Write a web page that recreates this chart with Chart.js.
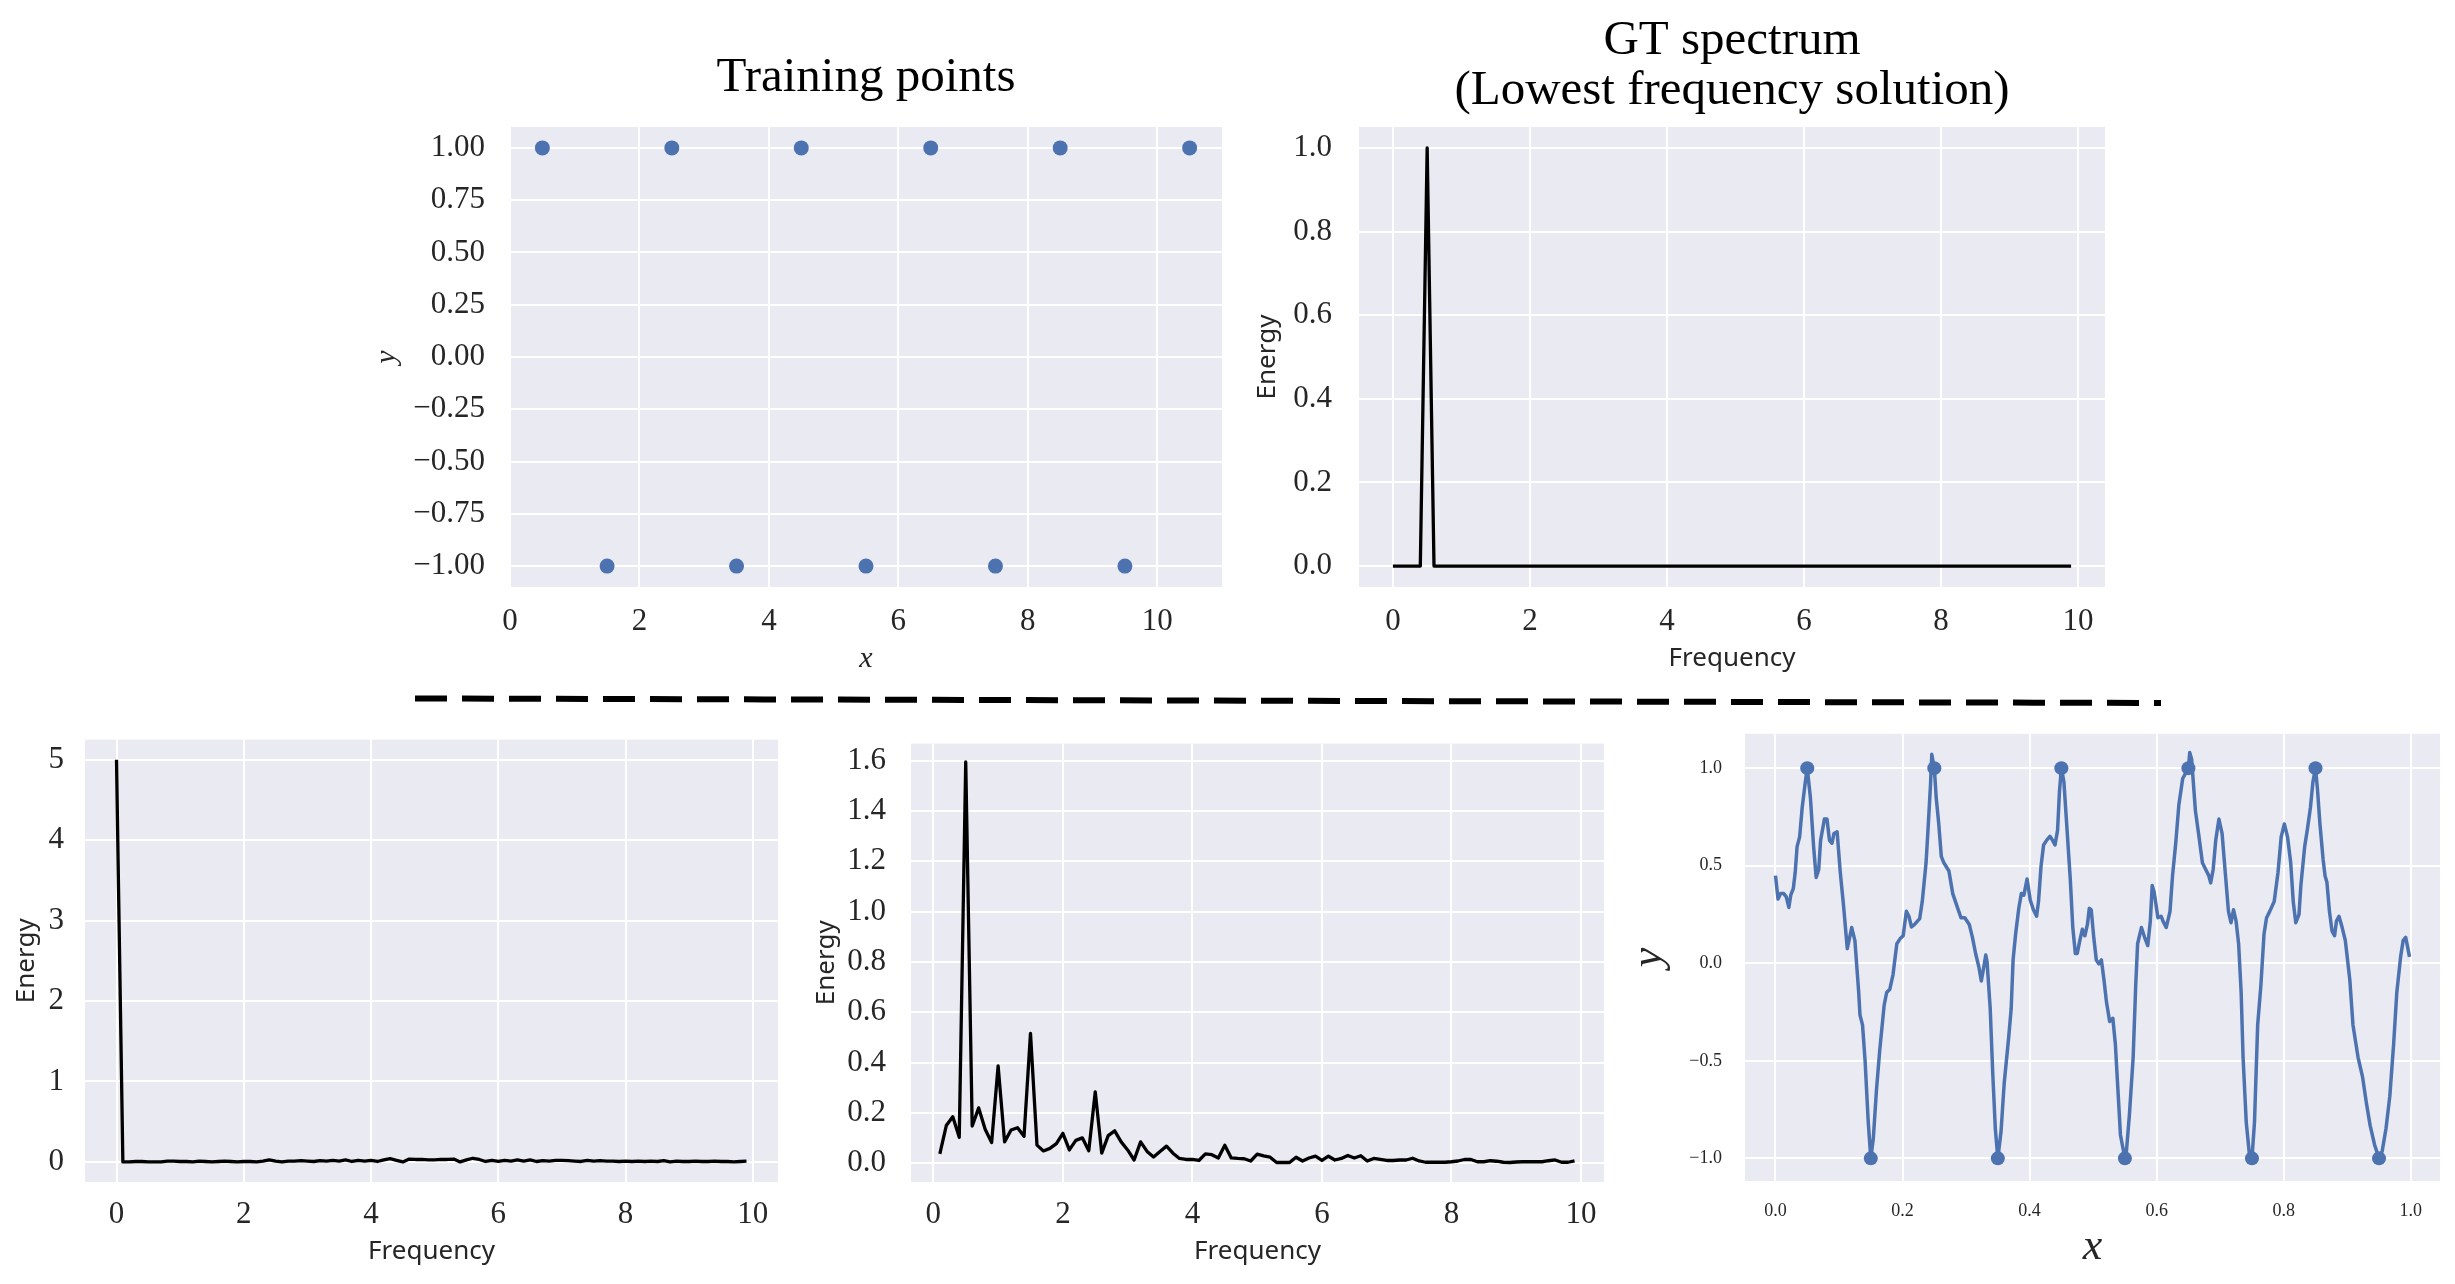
<!DOCTYPE html>
<html><head><meta charset="utf-8">
<script src="https://cdn.jsdelivr.net/npm/chart.js@4.4.1/dist/chart.umd.min.js"></script>
<style>
html,body{margin:0;padding:0;background:#fff;width:2455px;height:1284px;overflow:hidden;}
canvas{position:absolute;}
svg{position:absolute;left:0;top:0;pointer-events:none;}
</style></head><body>
<canvas id="cTL" width="912" height="700" style="left:330px;top:0px"></canvas>
<canvas id="cTR" width="895" height="700" style="left:1230px;top:0px"></canvas>
<canvas id="cBL" width="798" height="584" style="left:0px;top:700px"></canvas>
<canvas id="cBM" width="824" height="584" style="left:800px;top:700px"></canvas>
<canvas id="cBR" width="835" height="584" style="left:1620px;top:700px"></canvas>
<svg width="2455" height="1284"><line x1="415" y1="698.5" x2="2161" y2="703" stroke="#000" stroke-width="6" stroke-dasharray="32 15"/></svg>
<script>
// ---------- data ----------
const trainX = [0.5,1.5,2.5,3.5,4.5,5.5,6.5,7.5,8.5,9.5,10.5];
const trainY = [1,-1,1,-1,1,-1,1,-1,1,-1,1];

const freqs = [0,0.1,0.2,0.3,0.4,0.5,0.6,0.7,0.8,0.9,1,1.1,1.2,1.3,1.4,1.5,1.6,1.7,1.8,1.9,
  2,2.1,2.2,2.3,2.4,2.5,2.6,2.7,2.8,2.9,3,3.1,3.2,3.3,3.4,3.5,3.6,3.7,3.8,3.9,
  4,4.1,4.2,4.3,4.4,4.5,4.6,4.7,4.8,4.9,5,5.1,5.2,5.3,5.4,5.5,5.6,5.7,5.8,5.9,
  6,6.1,6.2,6.3,6.4,6.5,6.6,6.7,6.8,6.9,7,7.1,7.2,7.3,7.4,7.5,7.6,7.7,7.8,7.9,
  8,8.1,8.2,8.3,8.4,8.5,8.6,8.7,8.8,8.9,9,9.1,9.2,9.3,9.4,9.5,9.6,9.7,9.8,9.9];

const gtEnergy = [0,0,0,0,0,1,0,0,0,0, 0,0,0,0,0,0,0,0,0,0, 0,0,0,0,0,0,0,0,0,0, 0,0,0,0,0,0,0,0,0,0,
  0,0,0,0,0,0,0,0,0,0, 0,0,0,0,0,0,0,0,0,0, 0,0,0,0,0,0,0,0,0,0, 0,0,0,0,0,0,0,0,0,0,
  0,0,0,0,0,0,0,0,0,0, 0,0,0,0,0,0,0,0,0,0];

const lowEnergy = [5.0,
  0.000,0.000,0.005,0.005,0.000,0.000,0.000,0.010,0.010,0.005,
  0.005,0.000,0.010,0.005,0.000,0.005,0.010,0.005,0.000,0.005,
  0.005,0.000,0.010,0.025,0.010,0.000,0.010,0.010,0.015,0.010,
  0.005,0.015,0.010,0.020,0.010,0.025,0.005,0.020,0.010,0.020,
  0.005,0.025,0.040,0.020,0.000,0.035,0.030,0.030,0.025,0.025,
  0.030,0.030,0.035,0.000,0.025,0.045,0.030,0.005,0.020,0.005,
  0.020,0.010,0.025,0.010,0.025,0.005,0.015,0.010,0.020,0.020,
  0.015,0.010,0.005,0.020,0.010,0.015,0.010,0.010,0.005,0.010,
  0.005,0.010,0.005,0.010,0.005,0.015,0.000,0.010,0.005,0.005,
  0.010,0.005,0.005,0.010,0.005,0.005,0.000,0.005,0.010];

const nnFreqs = freqs.slice(1);
const nnEnergy = [
  0.037,0.150,0.185,0.103,1.595,0.148,0.220,0.135,0.082,0.387,
  0.085,0.132,0.141,0.107,0.516,0.072,0.049,0.059,0.078,0.119,
  0.053,0.091,0.101,0.050,0.284,0.040,0.110,0.129,0.085,0.053,
  0.013,0.085,0.047,0.025,0.047,0.068,0.040,0.019,0.015,0.015,
  0.011,0.037,0.034,0.021,0.072,0.021,0.019,0.018,0.009,0.036,
  0.029,0.024,0.003,0.003,0.003,0.024,0.009,0.021,0.028,0.011,
  0.028,0.013,0.019,0.031,0.021,0.030,0.009,0.019,0.015,0.011,
  0.011,0.013,0.013,0.020,0.009,0.004,0.004,0.004,0.004,0.006,
  0.009,0.015,0.015,0.006,0.006,0.010,0.008,0.004,0.003,0.005,
  0.006,0.006,0.006,0.006,0.010,0.013,0.004,0.004,0.009];

const fitPointsX = [0.05,0.15,0.25,0.35,0.45,0.55,0.65,0.75,0.85,0.95];
const fitPointsY = [1,-1,1,-1,1,-1,1,-1,1,-1];

const fitX = [0.000,0.004,0.008,0.013,0.017,0.021,0.024,0.028,0.031,0.034,
  0.038,0.042,0.047,0.050,0.055,0.060,0.064,0.068,0.071,0.077,
  0.081,0.085,0.089,0.092,0.097,0.102,0.107,0.113,0.120,0.125,
  0.131,0.133,0.137,0.141,0.146,0.150,0.154,0.159,0.164,0.171,
  0.175,0.180,0.185,0.191,0.196,0.201,0.206,0.210,0.214,0.219,
  0.227,0.231,0.237,0.240,0.244,0.246,0.250,0.253,0.257,0.261,
  0.265,0.273,0.279,0.285,0.292,0.298,0.305,0.310,0.315,0.320,
  0.324,0.328,0.331,0.333,0.338,0.342,0.346,0.350,0.355,0.360,
  0.367,0.371,0.374,0.378,0.383,0.387,0.391,0.396,0.401,0.406,
  0.411,0.414,0.418,0.422,0.427,0.432,0.436,0.440,0.444,0.447,
  0.450,0.454,0.458,0.464,0.468,0.472,0.475,0.479,0.483,0.487,
  0.491,0.494,0.497,0.501,0.505,0.509,0.513,0.517,0.521,0.526,
  0.531,0.535,0.539,0.543,0.550,0.552,0.557,0.563,0.567,0.570,
  0.576,0.581,0.586,0.590,0.593,0.596,0.602,0.607,0.610,0.615,
  0.621,0.625,0.630,0.635,0.641,0.650,0.652,0.655,0.661,0.666,
  0.672,0.677,0.682,0.685,0.689,0.693,0.698,0.703,0.708,0.713,
  0.717,0.721,0.725,0.729,0.733,0.736,0.741,0.746,0.750,0.754,
  0.759,0.764,0.769,0.773,0.778,0.785,0.791,0.796,0.801,0.806,
  0.811,0.815,0.819,0.824,0.827,0.833,0.837,0.842,0.846,0.850,
  0.853,0.857,0.862,0.865,0.868,0.872,0.876,0.880,0.883,0.887,
  0.892,0.897,0.904,0.909,0.917,0.924,0.930,0.936,0.943,0.950,
  0.955,0.961,0.967,0.973,0.978,0.984,0.988,0.992,0.995,0.998];
const fitY = [0.449,0.329,0.357,0.357,0.340,0.286,0.349,0.382,0.465,0.598,
  0.648,0.797,0.930,1.000,0.847,0.598,0.440,0.480,0.630,0.739,
  0.739,0.630,0.615,0.665,0.673,0.465,0.299,0.075,0.183,0.116,
  -0.150,-0.266,-0.316,-0.498,-0.814,-1.000,-0.897,-0.648,-0.449,-0.216,
  -0.150,-0.133,-0.058,0.100,0.125,0.141,0.266,0.241,0.186,0.199,
  0.229,0.316,0.515,0.681,0.914,1.071,1.000,0.847,0.714,0.548,
  0.515,0.473,0.357,0.299,0.233,0.233,0.199,0.133,0.050,-0.017,
  -0.091,-0.017,0.042,0.008,-0.233,-0.565,-0.847,-1.000,-0.864,-0.615,
  -0.382,-0.233,0.017,0.150,0.282,0.357,0.349,0.432,0.324,0.274,
  0.241,0.316,0.498,0.606,0.631,0.651,0.631,0.606,0.681,0.880,
  1.000,0.930,0.731,0.432,0.183,0.050,0.050,0.116,0.174,0.141,
  0.199,0.282,0.274,0.133,0.017,-0.003,0.017,-0.083,-0.199,-0.299,
  -0.282,-0.415,-0.648,-0.880,-1.000,-0.980,-0.781,-0.482,-0.116,0.100,
  0.183,0.133,0.091,0.216,0.399,0.365,0.233,0.241,0.216,0.183,
  0.266,0.449,0.615,0.814,0.947,1.000,1.080,1.047,0.781,0.664,
  0.515,0.482,0.449,0.412,0.482,0.631,0.739,0.664,0.465,0.266,
  0.208,0.274,0.216,0.100,-0.150,-0.482,-0.814,-0.980,-1.000,-0.814,
  -0.316,-0.116,0.150,0.233,0.266,0.316,0.465,0.648,0.714,0.648,
  0.515,0.316,0.208,0.249,0.399,0.598,0.681,0.797,0.930,1.000,
  0.897,0.714,0.532,0.449,0.415,0.266,0.166,0.141,0.216,0.241,
  0.183,0.116,-0.083,-0.316,-0.482,-0.581,-0.714,-0.831,-0.930,-1.000,
  -0.963,-0.847,-0.681,-0.415,-0.150,0.033,0.116,0.133,0.083,0.033];

// tick labels
const ticksFreq = [0,2,4,6,8,10];
const ticksTrainY = [-1,-0.75,-0.5,-0.25,0,0.25,0.5,0.75,1];
const ticksGTY = [0,0.2,0.4,0.6,0.8,1.0];
const ticksLowY = [0,1,2,3,4,5];
const ticksNNY = [0,0.2,0.4,0.6,0.8,1.0,1.2,1.4,1.6];
const ticksFitX = [0,0.2,0.4,0.6,0.8,1.0];
const ticksFitY = [-1,-0.5,0,0.5,1];

// titles
const titleTL = 'Training points';
const titleTR = ['GT spectrum','(Lowest frequency solution)'];

// ---------- styling helpers ----------
const SERIF = "'Liberation Serif', 'Times New Roman', serif";
const SANS = "'Noto Sans', 'DejaVu Sans', sans-serif";
const TXT = '#262626';
const BLUE = '#4C72B0';
Chart.defaults.font.family = SERIF;
Chart.defaults.color = TXT;

const bgPlugin = {
  id: 'axesBg',
  beforeDraw(chart) {
    const {ctx, chartArea: a} = chart;
    ctx.save();
    ctx.fillStyle = '#EAEAF2';
    ctx.fillRect(a.left, a.top, a.right - a.left, a.bottom - a.top);
    ctx.restore();
  }
};

function fmt(dec) {
  return function (v) {
    const s = Math.abs(v) < 1e-9 ? (0).toFixed(dec) : Number(v).toFixed(dec);
    return s.replace('-', '\u2212');
  };
}

function axis(o) {
  return {
    type: 'linear',
    min: o.min, max: o.max,
    afterFit: s => { if (o.w != null) s.width = o.w; if (o.h != null) s.height = o.h; },
    afterBuildTicks: s => { s.ticks = o.ticks.map(v => ({value: v})); },
    grid: {color: '#ffffff', lineWidth: 2, drawTicks: false},
    border: {display: false},
    ticks: {padding: o.pad, font: {family: SERIF, size: o.tsize || 31}, color: TXT,
            callback: fmt(o.dec), autoSkip: false, maxRotation: 0},
    title: {display: true, text: o.title, color: TXT,
            font: o.tfont, padding: o.tpad}
  };
}

function pts(xs, ys) { return xs.map((x, i) => ({x: x, y: ys[i]})); }

function make(id, cfg) {
  cfg.plugins = [bgPlugin];
  cfg.options.responsive = false;
  cfg.options.animation = false;
  cfg.options.events = [];
  cfg.options.plugins = Object.assign({legend: {display: false}, tooltip: {enabled: false}}, cfg.options.plugins || {});
  return new Chart(document.getElementById(id), cfg);
}

const italicSmall = {family: SERIF, size: 30, style: 'italic', lineHeight: 1.2};
const italicBig = {family: SERIF, size: 44, style: 'italic', lineHeight: 1.2};
const sansLab = {family: SANS, size: 26, lineHeight: 1.2};
const titleFont = {family: SERIF, size: 49, weight: 'normal', lineHeight: 50 / 49};

// ---------- Top left: training points ----------
make('cTL', {
  type: 'scatter',
  data: {datasets: [{data: pts(trainX, trainY), pointRadius: 7.5, backgroundColor: BLUE, borderWidth: 0}]},
  options: {
    layout: {padding: {left: 0, right: 20, top: 0, bottom: 0}},
    plugins: {title: {display: true, text: titleTL, color: '#000', font: titleFont,
              padding: {top: 53, bottom: 24}, fullSize: false}},
    scales: {
      x: axis({min: 0, max: 11, ticks: ticksFreq, dec: 0, pad: 16, h: 113,
               title: 'x', tfont: italicSmall, tpad: {bottom: 23}}),
      y: axis({min: -1.1, max: 1.1, ticks: ticksTrainY, dec: 2, pad: 25, w: 180,
               title: 'y', tfont: italicSmall, tpad: {top: 39}})
    }
  }
});

// ---------- Top right: GT spectrum ----------
make('cTR', {
  type: 'scatter',
  data: {datasets: [{data: pts(freqs, gtEnergy), showLine: true, borderColor: '#000', borderWidth: 3.3,
                     pointRadius: 0, borderJoinStyle: 'round', tension: 0}]},
  options: {
    layout: {padding: {left: 0, right: 20, top: 0, bottom: 0}},
    plugins: {title: {display: true, text: titleTR, color: '#000', font: titleFont,
              padding: {top: 16, bottom: 11}, fullSize: false}},
    scales: {
      x: axis({min: -0.495, max: 10.395, ticks: ticksFreq, dec: 0, pad: 16, h: 113,
               title: 'Frequency', tfont: sansLab, tpad: {bottom: 26}}),
      y: axis({min: -0.05, max: 1.05, ticks: ticksGTY, dec: 1, pad: 27, w: 129,
               title: 'Energy', tfont: sansLab, tpad: {top: 22}})
    }
  }
});

// ---------- Bottom left: spectrum (low) ----------
make('cBL', {
  type: 'scatter',
  data: {datasets: [{data: pts(freqs, lowEnergy), showLine: true, borderColor: '#000', borderWidth: 3.3,
                     pointRadius: 0, borderJoinStyle: 'round', tension: 0}]},
  options: {
    layout: {padding: {left: 0, right: 20, top: 21, bottom: 0}},
    scales: {
      x: axis({min: -0.495, max: 10.395, ticks: ticksFreq, dec: 0, pad: 14, h: 102,
               title: 'Frequency', tfont: sansLab, tpad: {bottom: 17}}),
      y: axis({min: -0.25, max: 5.25, ticks: ticksLowY, dec: 0, pad: 21, w: 85,
               title: 'Energy', tfont: sansLab, tpad: {top: 11}})
    }
  }
});

// ---------- Bottom middle: spectrum (network) ----------
make('cBM', {
  type: 'scatter',
  data: {datasets: [{data: pts(nnFreqs, nnEnergy), showLine: true, borderColor: '#000', borderWidth: 3.3,
                     pointRadius: 0, borderJoinStyle: 'round', tension: 0}]},
  options: {
    layout: {padding: {left: 0, right: 20, top: 21, bottom: 0}},
    scales: {
      x: axis({min: -0.345, max: 10.355, ticks: ticksFreq, dec: 0, pad: 14, h: 102,
               title: 'Frequency', tfont: sansLab, tpad: {bottom: 17}}),
      y: axis({min: -0.0745, max: 1.668, ticks: ticksNNY, dec: 1, pad: 25, w: 111,
               title: 'Energy', tfont: sansLab, tpad: {top: 11}})
    }
  }
});

// ---------- Bottom right: fitted function ----------
make('cBR', {
  type: 'scatter',
  data: {datasets: [
    {data: pts(fitPointsX, fitPointsY), pointRadius: 7, backgroundColor: BLUE, borderWidth: 0},
    {data: pts(fitX, fitY), showLine: true, borderColor: BLUE, borderWidth: 3.5,
     pointRadius: 0, borderJoinStyle: 'round', tension: 0}
  ]},
  options: {
    layout: {padding: {left: 0, right: 15, top: 21, bottom: 0}},
    scales: {
      x: axis({min: -0.048, max: 1.046, ticks: ticksFitX, dec: 1, pad: 19, h: 103, tsize: 18,
               title: 'x', tfont: italicBig, tpad: {bottom: 10}}),
      y: axis({min: -1.116, max: 1.176, ticks: ticksFitY, dec: 1, pad: 23, w: 125, tsize: 18,
               title: 'y', tfont: italicBig, tpad: {top: 3}})
    }
  }
});
</script>
</body></html>
